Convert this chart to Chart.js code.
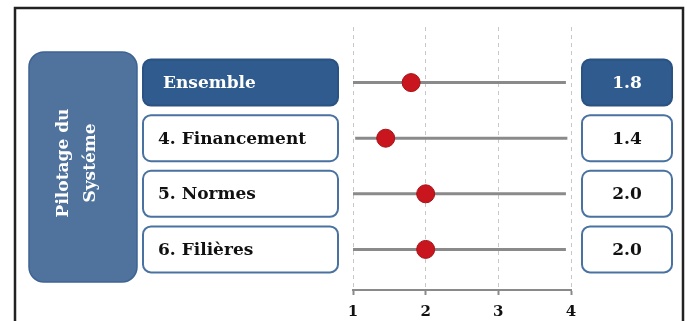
<!DOCTYPE html>
<html>
<head>
<meta charset="utf-8">
<script src="https://cdn.jsdelivr.net/npm/chart.js@4"></script>
<style>
  body { margin: 0; background: #fff; }
  canvas { display: block; }
</style>
</head>
<body>
<canvas id="pilotage" width="687" height="321"></canvas>
<script>
// values
var groupTitle = ['Pilotage du', 'Systéme'];
var categories = ['Ensemble', '4. Financement', '5. Normes', '6. Filières'];
var scores = [1.8, 1.45, 2.0, 2.0];
var scoreLabels = ['1.8', '1.4', '2.0', '2.0'];
var rangeMin = [1, 1.03, 1, 1];
var rangeMax = [3.93, 3.95, 3.93, 3.93];
var xTicks = [1, 2, 3, 4];

var serif = '"DejaVu Serif", serif';
var blue = '#2f5b8e';
var boxLine = '#4a72a0';

function roundBox(ctx, x, y, w, h, r, fill, stroke, lw) {
    ctx.beginPath();
    ctx.roundRect(x, y, w, h, r);
    ctx.fillStyle = fill;
    ctx.fill();
    if (stroke) {
        ctx.lineWidth = lw;
        ctx.strokeStyle = stroke;
        ctx.stroke();
    }
}

var boxesPlugin = {
    id: 'boxes',
    beforeDraw: function (chart) {
        var ctx = chart.ctx;
        ctx.save();
        // frame
        ctx.strokeStyle = '#222';
        ctx.lineWidth = 2.5;
        ctx.beginPath();
        ctx.moveTo(15, 321);
        ctx.lineTo(15, 8);
        ctx.lineTo(683, 8);
        ctx.lineTo(683, 321);
        ctx.stroke();
        ctx.restore();
    },
    afterDraw: function (chart) {
        var ctx = chart.ctx;
        var y = chart.scales.y;
        ctx.save();

        // big group box on the left
        roundBox(ctx, 29, 52, 108, 230, 15, '#50739e', '#3e6392', 1.5);
        ctx.save();
        ctx.translate(78, 163);
        ctx.rotate(-Math.PI / 2);
        ctx.fillStyle = '#fff';
        ctx.font = 'bold 17px ' + serif;
        ctx.textAlign = 'center';
        ctx.textBaseline = 'middle';
        ctx.fillText(groupTitle[0], 0, -14);
        ctx.fillText(groupTitle[1], 0, 13);
        ctx.restore();

        categories.forEach(function (name, i) {
            var cy = y.getPixelForValue(i);
            var first = i === 0;
            var fill = first ? blue : '#fff';
            var line = first ? '#2a5282' : boxLine;
            var ink = first ? '#fff' : '#111';
            ctx.font = 'bold 17px ' + serif;
            ctx.textBaseline = 'middle';
            // label box
            roundBox(ctx, 143, cy - 23, 195, 46, 8, fill, line, 2);
            ctx.textAlign = 'left';
            ctx.fillStyle = ink;
            ctx.fillText(name, first ? 163 : 158, cy + 1);
            // value box
            roundBox(ctx, 582, cy - 23, 90, 46, 8, fill, line, 2);
            ctx.textAlign = 'center';
            ctx.fillStyle = ink;
            ctx.fillText(scoreLabels[i], 627, cy + 1);
        });
        ctx.restore();
    }
};

var datasets = [{
    label: 'score',
    data: scores.map(function (v, i) { return { x: v, y: i }; }),
    pointRadius: 9,
    pointBackgroundColor: '#c9161e',
    pointBorderColor: '#a51217',
    pointBorderWidth: 1,
    showLine: false,
    order: 0
}];
categories.forEach(function (name, i) {
    datasets.push({
        label: name,
        data: [{ x: rangeMin[i], y: i }, { x: rangeMax[i], y: i }],
        showLine: true,
        borderColor: '#8a8a8a',
        borderWidth: 3,
        pointRadius: 0,
        order: 1
    });
});

var ctx = document.getElementById('pilotage').getContext('2d');
var myChart = new Chart(ctx, {
    type: 'scatter',
    data: { datasets: datasets },
    plugins: [boxesPlugin],
    options: {
        responsive: false,
        animation: false,
        devicePixelRatio: 1,
        layout: { padding: { left: 353, right: 116, top: 27, bottom: 0 } },
        plugins: { legend: { display: false }, tooltip: { enabled: false } },
        scales: {
            x: {
                type: 'linear',
                min: 1,
                max: 4,
                afterBuildTicks: function (s) {
                    s.ticks = xTicks.map(function (v) { return { value: v }; });
                },
                afterFit: function (s) { s.height = 31; },
                grid: {
                    color: '#c8c8c8',
                    lineWidth: 1,
                    tickColor: '#8a8a8a',
                    tickWidth: 2,
                    tickLength: 5,
                    tickBorderDash: []
                },
                border: { color: '#8a8a8a', width: 2, dash: [4, 4] },
                ticks: {
                    padding: 8,
                    color: '#111',
                    font: { family: serif, weight: 'bold', size: 15 }
                }
            },
            y: {
                type: 'linear',
                display: false,
                reverse: true,
                min: -1,
                max: 3.73
            }
        }
    }
});
</script>
</body>
</html>
